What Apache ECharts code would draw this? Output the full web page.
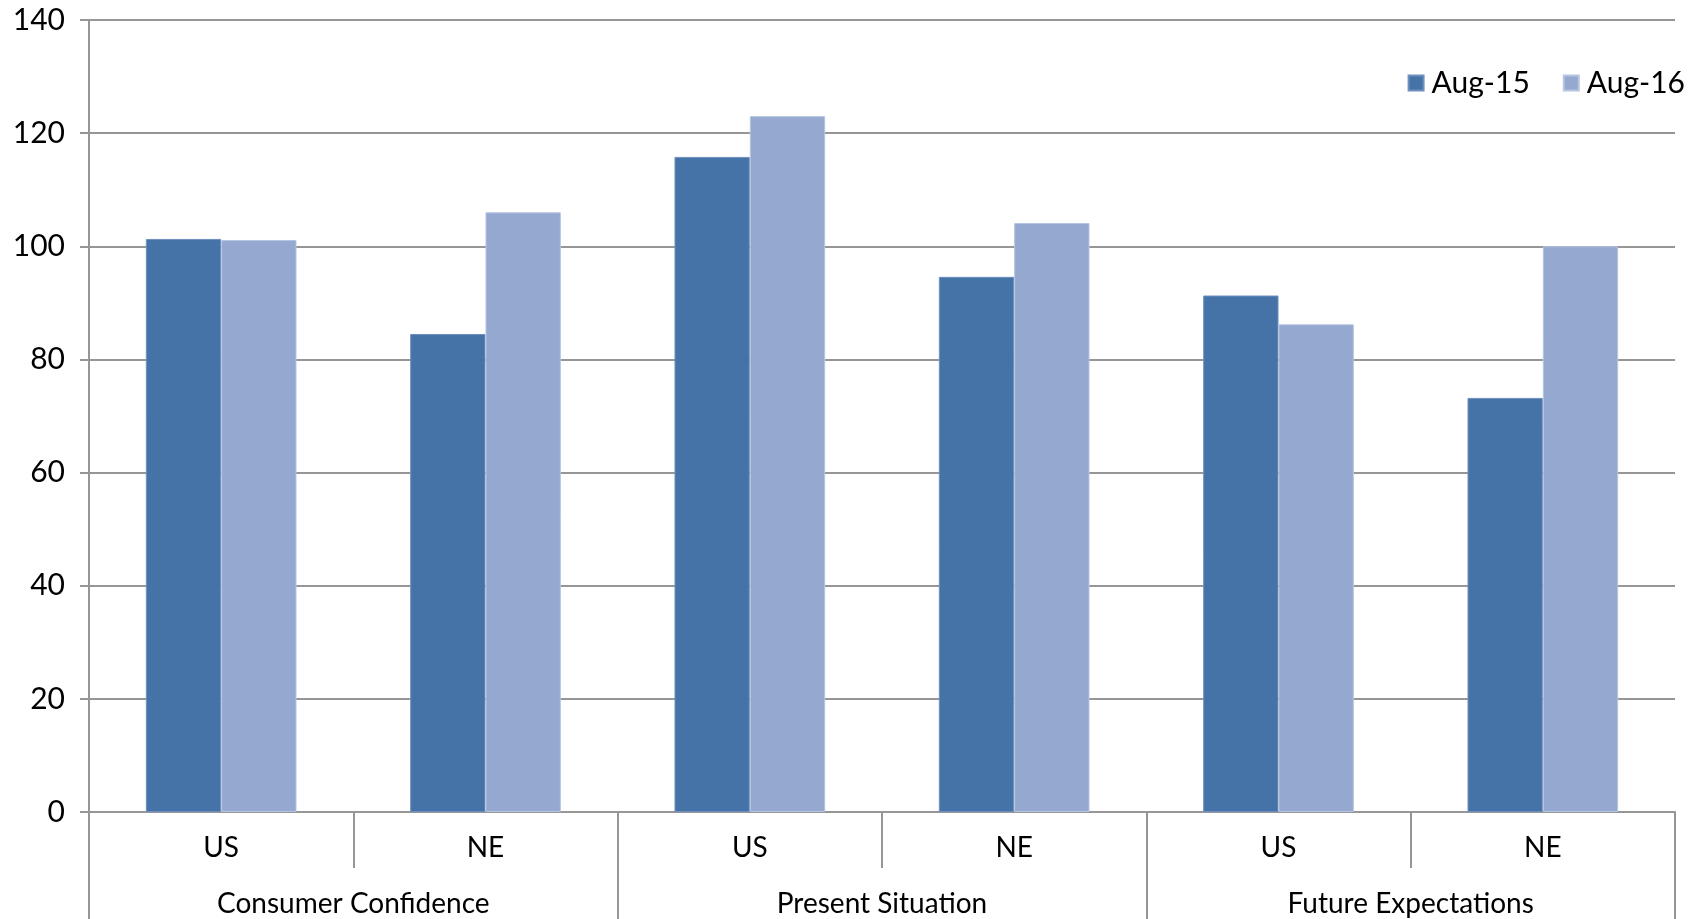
<!DOCTYPE html>
<html><head><meta charset="utf-8">
<script src="https://cdn.jsdelivr.net/npm/echarts@6/dist/echarts.min.js"></script>
<style>html,body{margin:0;padding:0;background:#fff}#c{width:1700px;height:919px}</style>
</head><body><div id="c"></div>
<script>
const regions = ['US','NE','US','NE','US','NE'];
const groups = ['Consumer Confidence','Present Situation','Future Expectations'];
const seriesNames = ['Aug-15','Aug-16'];
const aug15 = [101.3, 84.5, 115.8, 94.6, 91.3, 73.2];
const aug16 = [101.1, 106.0, 123.0, 104.1, 86.2, 100.0];
const yTicks = [0,20,40,60,80,100,120,140];

const FONT = 'Lato';
const chart = echarts.init(document.getElementById('c'));
chart.setOption({
  animation:false,
  textStyle:{fontFamily:FONT},
  grid:{left:89,right:25,top:20,bottom:107,containLabel:false},
  legend:{
    right:10, top:63, itemWidth:15, itemHeight:15, itemGap:33, icon:'rect',
    textStyle:{fontSize:30,color:'#000',fontFamily:FONT,padding:[0,0,0,3]},
    data:seriesNames
  },
  xAxis:[
    {type:'category',data:regions,position:'bottom',
     axisLine:{lineStyle:{color:'#969696',width:2}},
     axisTick:{show:true,interval:0,length:56,lineStyle:{color:'#969696',width:2}},
     axisLabel:{interval:0,margin:22,fontSize:28,color:'#000',fontFamily:FONT}},
    {type:'category',data:groups,position:'bottom',
     axisLine:{show:false},
     axisTick:{show:true,interval:0,length:110,lineStyle:{color:'#969696',width:2}},
     axisLabel:{interval:0,margin:78,fontSize:28,color:'#000',fontFamily:FONT}}
  ],
  yAxis:{type:'value',min:0,max:140,interval:20,
    axisLine:{show:true,lineStyle:{color:'#969696',width:2}},
    axisTick:{show:true,length:9,lineStyle:{color:'#969696',width:2}},
    axisLabel:{fontSize:30,color:'#000',margin:24,fontFamily:FONT,
      formatter:v=>yTicks.includes(v)?String(v):''},
    splitLine:{lineStyle:{color:'#969696',width:2}}
  },
  series:[
    {name:seriesNames[0],type:'bar',data:aug15,xAxisIndex:0,barGap:'0%',barCategoryGap:'43%',
     itemStyle:{color:'#4673A7',borderColor:'#6f90bf',borderWidth:1}},
    {name:seriesNames[1],type:'bar',data:aug16,xAxisIndex:0,barGap:'0%',barCategoryGap:'43%',
     itemStyle:{color:'#95A9D0',borderColor:'#b5c5e2',borderWidth:1}}
  ]
});
</script></body></html>
